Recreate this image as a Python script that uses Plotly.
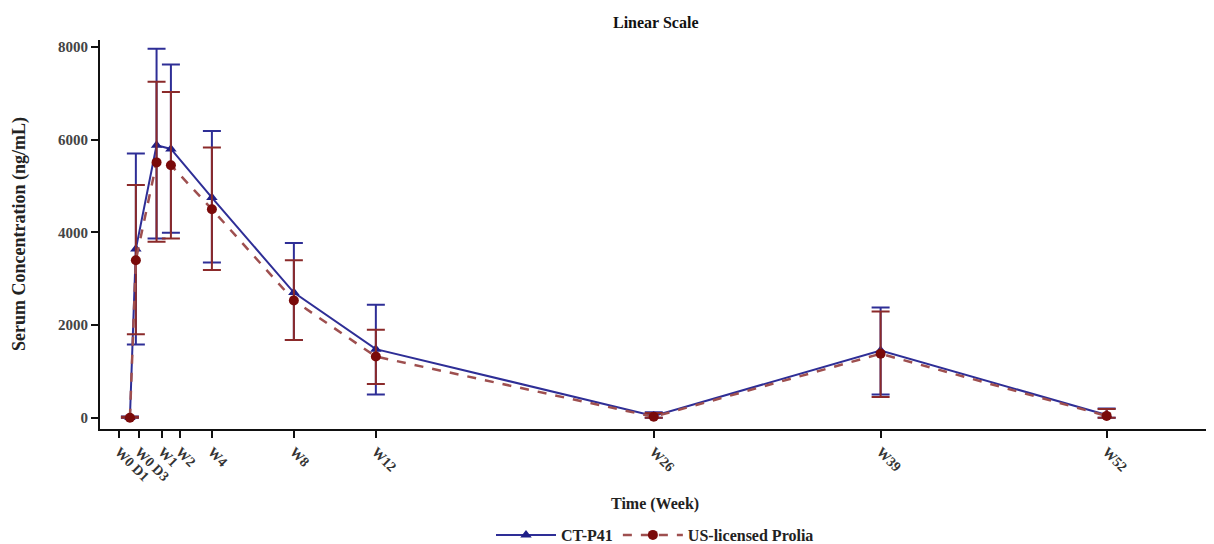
import plotly.graph_objects as go

# Time points (x position in weeks on the chart's axis)
time_x = [0, 0.29, 1.3, 2.0, 4, 8, 12, 25.56, 36.63, 47.66]

# Tick positions and labels
tick_pos = [-0.54, 0.44, 1.58, 2.44, 4, 8, 12, 25.56, 36.63, 47.66]
tick_labels = ["W0 D1", "W0 D3", "W1", "W2", "W4", "W8", "W12", "W26", "W39", "W52"]

# CT-P41
ct_mean = [5, 3640, 5880, 5800, 4750, 2700, 1480, 40, 1450, 60]
ct_upper = [25, 5700, 7960, 7620, 6190, 3770, 2440, 120, 2380, 200]
ct_lower = [0, 1580, 3870, 3990, 3350, 1680, 500, 0, 500, 0]

# US-licensed Prolia
us_mean = [0, 3400, 5510, 5450, 4500, 2530, 1320, 20, 1380, 40]
us_upper = [20, 5020, 7250, 7030, 5830, 3400, 1900, 100, 2290, 190]
us_lower = [0, 1800, 3800, 3870, 3190, 1680, 730, 0, 450, 0]

BLUE = "#2E2E96"
BLUE_M = "#1F1F88"
RED_L = "#9E4F4F"
RED_M = "#7A0A0A"
RED_E = "#8B2A2A"
FONT = "Liberation Serif"

# the page body adds an 8px margin; size the figure so it fits the 1214x544 window
OFF = 8
W, H = 1214 - OFF, 544 - OFF
# plot area in window pixels: left 100, right 1212, top 40, bottom 429
ML, MR, MT, MB = 100 - OFF, W - (1212 - OFF), 40 - OFF, H - (429 - OFF)
pw = W - ML - MR
ph = H - MT - MB


def px_x(sx):
    """window x pixel -> paper x"""
    return (sx - OFF - ML) / pw


def px_y(sy):
    """window y pixel -> paper y"""
    return (H - MB - (sy - OFF)) / ph


fig = go.Figure()

fig.add_trace(go.Scatter(
    x=time_x, y=ct_mean, name="CT-P41", mode="lines+markers",
    line=dict(color=BLUE, width=2),
    marker=dict(symbol="triangle-up", size=10, color=BLUE_M),
    error_y=dict(type="data", symmetric=False,
                 array=[u - m for u, m in zip(ct_upper, ct_mean)],
                 arrayminus=[m - l for m, l in zip(ct_mean, ct_lower)],
                 color=BLUE, thickness=2, width=9),
))
fig.add_trace(go.Scatter(
    x=time_x, y=us_mean, name="US-licensed Prolia", mode="lines+markers",
    line=dict(color=RED_L, width=2.5, dash="dash"),
    marker=dict(symbol="circle", size=10, color=RED_M),
    error_y=dict(type="data", symmetric=False,
                 array=[u - m for u, m in zip(us_upper, us_mean)],
                 arrayminus=[m - l for m, l in zip(us_mean, us_lower)],
                 color=RED_E, thickness=2, width=9),
))

fig.update_layout(
    width=W, height=H,
    margin=dict(l=ML, r=MR, t=MT, b=MB, autoexpand=False),
    plot_bgcolor="white", paper_bgcolor="white",
    font=dict(family=FONT, size=13, color="#222"),
    showlegend=True,
    legend=dict(orientation="h", x=px_x(655), xanchor="center",
                y=px_y(535), yanchor="middle",
                font=dict(family=FONT, size=16, color="#222", weight="bold"),
                itemwidth=60, tracegroupgap=0),
    xaxis=dict(range=[-1.46, 52.8], tickmode="array", tickvals=tick_pos, ticktext=tick_labels,
               tickangle=45, showline=True, linecolor="#111", linewidth=2,
               ticks="outside", ticklen=7, tickwidth=2, tickcolor="#111",
               showgrid=False, zeroline=False, automargin=False,
               tickfont=dict(family=FONT, size=14, color="#333", weight="bold")),
    yaxis=dict(range=[-243, 8151], tickvals=[0, 2000, 4000, 6000, 8000],
               showline=True, linecolor="#111", linewidth=2,
               ticks="outside", ticklen=7, tickwidth=2, tickcolor="#111",
               showgrid=False, zeroline=False, automargin=False,
               tickfont=dict(family=FONT, size=15, color="#444", weight="bold")),
    annotations=[
        dict(text="<b>Linear Scale</b>", x=px_x(655), xref="paper", y=px_y(23), yref="paper",
             xanchor="center", yanchor="middle",
             showarrow=False, font=dict(family=FONT, size=16, color="#111")),
        dict(text="<b>Time (Week)</b>", x=px_x(655), xref="paper", y=px_y(504), yref="paper",
             xanchor="center", yanchor="middle",
             showarrow=False, font=dict(family=FONT, size=16, color="#222")),
        dict(text="<b>Serum Concentration (ng/mL)</b>", x=px_x(19), xref="paper",
             y=px_y(234), yref="paper", textangle=-90, showarrow=False,
             xanchor="center", yanchor="middle",
             font=dict(family=FONT, size=18, color="#222")),
    ],
)

fig.write_html("out.html")
